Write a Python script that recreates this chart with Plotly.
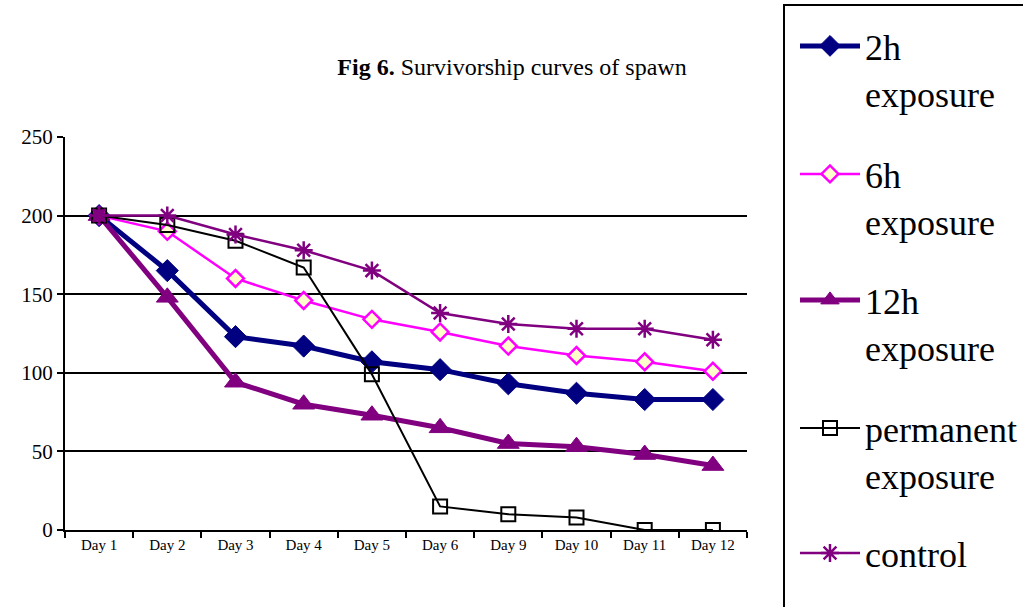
import plotly.graph_objects as go

days = ["Day 1", "Day 2", "Day 3", "Day 4", "Day 5", "Day 6", "Day 9", "Day 10", "Day 11", "Day 12"]
exp_2h = [200, 165, 123, 117, 107, 102, 93, 87, 83, 83]
exp_6h = [200, 190, 160, 146, 134, 126, 117, 111, 107, 101]
exp_12h = [200, 148, 94, 80, 73, 65, 55, 53, 48, 41]
permanent = [200, 194, 184, 167, 99, 15, 10, 8, 0, 0]
control = [200, 200, 188, 178, 165, 138, 131, 128, 128, 121]

FONT = "Liberation Serif"

PL, PR, PT, PB = 65, 747, 137, 530  # plot area in page pixels
W, H = 1023, 607

fig = go.Figure()
series = [
    ("2h<br>exposure", exp_2h, dict(color="#000080", width=5),
     dict(symbol="diamond", size=17, color="#000080", line=dict(color="#000080", width=1))),
    ("6h<br>exposure", exp_6h, dict(color="#FF00FF", width=2.5),
     dict(symbol="diamond", size=13, color="#FFFFCC", line=dict(color="#FF00FF", width=2.5))),
    ("12h<br>exposure", exp_12h, dict(color="#800080", width=5),
     dict(symbol="triangle-up", size=19, color="#800080", line=dict(color="#800080", width=1))),
    ("permanent<br>exposure", permanent, dict(color="#000000", width=2),
     dict(symbol="square-open", size=14, color="#000000", line=dict(color="#000000", width=2))),
    ("control", control, dict(color="#800080", width=2.5),
     dict(symbol="asterisk-open", size=15, color="#800080", line=dict(color="#800080", width=2.5))),
]
legend_centers = [49, 177, 303, 431, 556]  # page y of first legend line
legend_names = ["legend", "legend2", "legend3", "legend4", "legend5"]

layout_legends = {}
for i, (name, vals, line, marker) in enumerate(series):
    fig.add_trace(go.Scatter(x=days, y=vals, mode="lines+markers", name=name,
                             line=line, marker=marker, legend=legend_names[i]))
    top = legend_centers[i] - 33
    layout_legends[legend_names[i]] = dict(
        x=795 / W, xref="container", xanchor="left",
        y=1 - top / H, yref="container", yanchor="top",
        font=dict(family=FONT, size=36, color="black"),
        itemwidth=60, valign="top", bgcolor="rgba(0,0,0,0)", borderwidth=0)

fig.update_layout(
    width=W, height=H,
    margin=dict(l=PL, r=W - PR, t=PT, b=H - PB),
    paper_bgcolor="white", plot_bgcolor="white",
    font=dict(family=FONT, color="black"),
    title=dict(text="<b>Fig 6.</b> Survivorship curves of spawn",
               x=512 / W, xref="container", xanchor="center",
               y=1 - 67 / H, yref="container", yanchor="middle",
               font=dict(family=FONT, size=24, color="black")),
    showlegend=True,
    **layout_legends,
)
fig.update_xaxes(type="category", tickson="boundaries", ticks="outside", ticklen=6,
                 tickwidth=2, tickcolor="black", showline=True, linecolor="black",
                 linewidth=2, showgrid=False, tickfont=dict(family=FONT, size=15),
                 range=[-0.5, 9.5])
fig.update_yaxes(range=[0, 250], dtick=50, ticks="outside", ticklen=6, tickwidth=2,
                 tickcolor="black", showline=True, linecolor="black", linewidth=2,
                 showgrid=True, gridcolor="black", gridwidth=2, zeroline=False,
                 tickfont=dict(family=FONT, size=21))

fig.add_shape(type="rect", xref="paper", yref="paper",
              x0=(784 - PL) / (PR - PL), x1=1.6, y0=-0.5, y1=(PB - 5) / (PB - PT),
              line=dict(color="black", width=2), fillcolor="rgba(0,0,0,0)")

fig.write_html("out.html", config={"displayModeBar": False},
               post_script="document.body.style.margin='0';")
